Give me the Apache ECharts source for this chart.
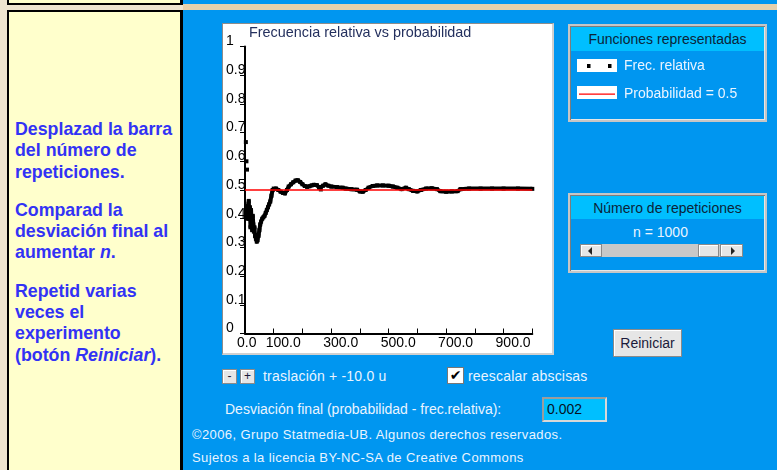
<!DOCTYPE html>
<html lang="es">
<head>
<meta charset="utf-8">
<title>Frecuencia relativa vs probabilidad</title>
<script src="https://cdn.jsdelivr.net/npm/echarts@6/dist/echarts.min.js"></script>
<style>
  html, body { margin: 0; padding: 0; }
  body {
    width: 777px; height: 470px; overflow: hidden; position: relative;
    background: #EEE4CF;
    font-family: "Liberation Sans", Arial, sans-serif;
  }
  .abs { position: absolute; box-sizing: border-box; }
  .azul { left: 183px; top: 0; width: 594px; height: 470px; background: #0096F0; }
  .franja { left: 183px; top: 4px; width: 594px; height: 6px; background: #E6D1AC; }
  .cajaSup { left: 7px; top: -12px; width: 176px; height: 17px; background: #FFFFCC;
    border: 2px solid #000; border-right-width: 3px; }
  .panelIzq { left: 7px; top: 10px; width: 176px; height: 480px; background: #FFFFCC;
    border: 2px solid #000; border-right-width: 3px; }
  .textoIzq { left: 15px; top: 119px; color: #3232F5; font-weight: bold;
    font-size: 17.8px; line-height: 21.3px; white-space: nowrap; }
  .textoIzq p { margin: 0 0 17px 0; }
  .lienzo { left: 222px; top: 23px; width: 332px; height: 332px; background: #fff;
    border-left: 1px solid #8c8c8c; border-top: 1px solid #8c8c8c;
    border-right: 2px solid #d0d0d0; border-bottom: 2px solid #d0d0d0; }
  .panel { left: 568px; width: 199px; background: #0096F0;
    border: 2px solid #c6c6c6; box-shadow: inset 1px 1px 0 #7c7c7c, inset -1px -1px 0 #e6e6e6; }
  .titulo { position: absolute; left: 1px; right: 1px; top: 1px; background: #00BFFF;
    color: #0b2438; font-size: 14px; text-align: center; }
  .caja { background: #fff; width: 40px; height: 13px; }
  .blanco { color: #EAF4FF; font-size: 14px; white-space: nowrap; }
  .boton { background: #E6E6E6; border: 1px solid #8a8a8a; box-shadow: inset 1px 1px 0 #fff;
    color: #1a1a3a; text-align: center; }
  .flecha { position: absolute; width: 0; height: 0; border-top: 4px solid transparent; border-bottom: 4px solid transparent; }
  #grafico { position: absolute; left: 0; top: 0; width: 777px; height: 470px; z-index: 5; }
</style>
</head>
<body>
<div class="abs azul"></div>
<div class="abs franja"></div>
<div class="abs cajaSup"></div>
<div class="abs panelIzq"></div>
<div class="abs textoIzq">
  <p>Desplazad la barra<br>del número de<br>repeticiones.</p>
  <p>Comparad la<br>desviación final al<br>aumentar <i>n</i>.</p>
  <p>Repetid varias<br>veces el<br>experimento<br>(botón <i>Reiniciar</i>).</p>
</div>

<div class="abs lienzo"></div>

<!-- panel de funciones -->
<div class="abs panel" style="top:24px; height:98px;">
  <div class="titulo" style="height:24px; line-height:24px;">Funciones representadas</div>
</div>
<div class="abs caja" style="left:577px; top:59px;"></div>
<div class="abs caja" style="left:577px; top:86px;"></div>

<!-- panel de repeticiones -->
<div class="abs panel" style="top:193px; height:80px;">
  <div class="titulo" style="height:23px; line-height:25px;">Número de repeticiones</div>
</div>
<div class="abs blanco" style="left:610px; top:224px; width:101px; text-align:center; line-height:17px;">n = 1000</div>
<div class="abs" style="left:580px; top:244px; width:163px; height:13px; background:#C8C8C8;"></div>
<div class="abs boton" style="left:580px; top:244px; width:22px; height:13px;">
  <div class="flecha" style="left:7px; top:2px; border-right:4px solid #222;"></div>
</div>
<div class="abs boton" style="left:698px; top:244px; width:21px; height:13px;"></div>
<div class="abs boton" style="left:720px; top:244px; width:23px; height:13px;">
  <div class="flecha" style="left:10px; top:2px; border-left:4px solid #222;"></div>
</div>

<div class="abs boton" style="left:613px; top:329px; width:69px; height:28px; font-size:14px; line-height:26px;">Reiniciar</div>

<!-- controles inferiores -->
<div class="abs boton" style="left:222px; top:369px; width:15px; height:15px; font-size:12px; line-height:13px;">-</div>
<div class="abs boton" style="left:240px; top:369px; width:15px; height:15px; font-size:12px; line-height:13px;">+</div>
<div class="abs blanco" style="left:263px; top:368px; line-height:17px; letter-spacing:0.2px;">traslación + -10.0 u</div>
<div class="abs" style="left:447px; top:367px; width:17px; height:17px; background:#fff; border:1px solid #777;
  font-family:'DejaVu Sans'; font-size:14px; line-height:15px; text-align:center; color:#000;">✔</div>
<div class="abs blanco" style="left:468px; top:368px; line-height:17px; letter-spacing:0.2px;">reescalar abscisas</div>
<div class="abs blanco" style="left:225px; top:401px; line-height:17px;">Desviación final (probabilidad - frec.relativa):</div>
<div class="abs" style="left:542px; top:397px; width:65px; height:25px; background:#00BFFF;
  border:2px solid #9c9c9c; border-right-color:#d8d8d8; border-bottom-color:#d8d8d8;
  font-size:14px; line-height:21px; padding-left:3px; color:#06121f;">0.002</div>
<div class="abs blanco" style="left:192px; top:427px; font-size:13px; line-height:16px; letter-spacing:0.4px;">©2006, Grupo Statmedia-UB. Algunos derechos reservados.</div>
<div class="abs blanco" style="left:192px; top:450px; font-size:13px; line-height:16px; letter-spacing:0.4px;">Sujetos a la licencia BY-NC-SA de Creative Commons</div>

<div id="grafico"></div>

<script>
// valores: primeros puntos sueltos (n impares)
const nSueltos = [3, 5, 7];
const frecSueltos = [0.667, 0.6, 0.571];

// resto de la frecuencia relativa, como curva continua
const nCurva = [9, 10, 12, 13, 15, 17, 19, 21, 23, 25, 27, 29, 31, 33, 35, 38, 41, 44, 47, 50,
  53, 56, 60, 64, 68, 72, 76, 80, 84, 88, 92, 96, 100, 108, 116, 124, 132, 139, 146, 152,
  160, 168, 176, 184, 192, 200, 208, 216, 224, 232, 240, 250, 258, 264, 272, 280, 290, 300, 320, 340,
  350, 370, 390, 400, 410, 420, 430, 445, 460, 480, 500, 515, 530, 545, 560, 570, 585, 600, 612, 630,
  650, 668, 680, 700, 720, 740, 750, 780, 820, 860, 900, 950, 1000];
const frecCurva = [0.444, 0.40, 0.45, 0.462, 0.40, 0.44, 0.37, 0.43, 0.39, 0.36, 0.41, 0.38, 0.355, 0.37, 0.34, 0.33, 0.32, 0.325, 0.34, 0.36,
  0.38, 0.39, 0.40, 0.405, 0.41, 0.42, 0.43, 0.44, 0.45, 0.46, 0.48, 0.50, 0.505, 0.505, 0.50, 0.494, 0.49, 0.488, 0.50, 0.512,
  0.52, 0.527, 0.533, 0.534, 0.528, 0.52, 0.514, 0.511, 0.513, 0.516, 0.518, 0.517, 0.508, 0.502, 0.515, 0.52, 0.515, 0.512, 0.51, 0.508,
  0.505, 0.503, 0.501, 0.495, 0.494, 0.50, 0.508, 0.514, 0.516, 0.516, 0.515, 0.512, 0.508, 0.503, 0.508, 0.503, 0.497, 0.495, 0.50, 0.505,
  0.506, 0.503, 0.496, 0.494, 0.495, 0.496, 0.503, 0.505, 0.505, 0.505, 0.505, 0.505, 0.504];

// probabilidad teórica
const nProb = [0, 1000];
const valoresProb = [0.5, 0.5];

// etiquetas de los ejes
const etiquetasX = [0, 100, 300, 500, 700, 900];
const etiquetasY = ['0', '0.1', '0.2', '0.3', '0.4', '0.5', '0.6', '0.7', '0.8', '0.9', '1'];

const fuente = '"Liberation Sans", Arial, sans-serif';

const datosFrec = [];
nSueltos.forEach((n, i) => {
  datosFrec.push([n, frecSueltos[i]]);
  datosFrec.push([n + 1, '-']); // corta la línea
});
nCurva.forEach((n, i) => datosFrec.push([n, frecCurva[i]]));

const datosProb = nProb.map((n, i) => [n, valoresProb[i]]);

const chart = echarts.init(document.getElementById('grafico'), null, { renderer: 'canvas' });

const option = {
  animation: false,
  textStyle: { fontFamily: fuente },
  title: {
    text: 'Frecuencia relativa vs probabilidad',
    left: 249,
    top: 26,
    padding: 0,
    textStyle: { fontSize: 14.4, fontWeight: 'normal', color: '#24305e', lineHeight: 14, fontFamily: fuente }
  },
  legend: {
    orient: 'vertical',
    left: 577,
    top: 59,
    padding: 0,
    itemWidth: 40,
    itemHeight: 13,
    itemGap: 14,
    selectedMode: false,
    symbolKeepAspect: false,
    itemStyle: { borderWidth: 0 },
    textStyle: { color: '#EAF4FF', fontSize: 14, padding: [0, 0, 0, 2], fontFamily: fuente },
    data: [
      { name: 'Frec. relativa', icon: 'path://M0,0M40,13M10,4.5h3.5v4h-3.5zM31,4.5h3.5v4h-3.5z' },
      { name: 'Probabilidad = 0.5', icon: 'path://M0,0M40,13M2,6h36v1.3h-36z' }
    ]
  },
  grid: {
    left: 245,
    right: 244.7,
    top: 46.5,
    bottom: 136.5
  },
  xAxis: {
    type: 'value',
    min: 0,
    max: 1000,
    interval: 100,
    splitLine: { show: false },
    axisLine: { lineStyle: { color: '#000', width: 2 } },
    axisTick: { inside: true, length: 5, lineStyle: { color: '#000', width: 1 } },
    axisLabel: {
      color: '#000',
      fontSize: 14,
      margin: 3,
      lineHeight: 14,
      align: 'left',
      padding: [0, 0, 0, -8],
      showMinLabel: true,
      showMaxLabel: true,
      formatter: v => etiquetasX.includes(v) ? v.toFixed(1) : ''
    }
  },
  yAxis: {
    type: 'value',
    min: 0,
    max: 1,
    interval: 0.1,
    splitLine: { show: false },
    axisLine: { lineStyle: { color: '#000', width: 2 } },
    axisTick: { length: 5, lineStyle: { color: '#000', width: 1 } },
    axisLabel: {
      color: '#000',
      fontSize: 14,
      margin: 19,
      align: 'left',
      verticalAlign: 'bottom',
      lineHeight: 10,
      formatter: v => etiquetasY[Math.round(v * 10)]
    }
  },
  series: [
    {
      name: 'Frec. relativa',
      type: 'line',
      data: datosFrec,
      symbol: 'rect',
      symbolSize: 4,
      showSymbol: true,
      showAllSymbol: true,
      connectNulls: false,
      itemStyle: { color: '#000', borderWidth: 0 },
      lineStyle: { color: '#000', width: 4, join: 'round' },
      z: 2
    },
    {
      name: 'Probabilidad = 0.5',
      type: 'line',
      data: datosProb,
      showSymbol: false,
      itemStyle: { color: '#ff0000' },
      lineStyle: { color: '#ff0000', width: 1.5 },
      z: 3
    }
  ]
};

chart.setOption(option);
</script>
</body>
</html>
